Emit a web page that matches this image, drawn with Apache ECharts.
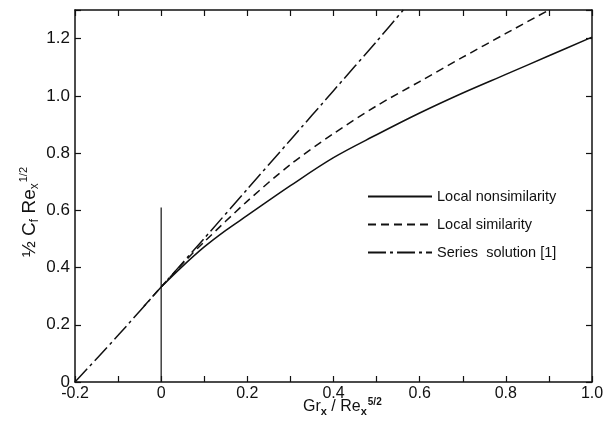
<!DOCTYPE html>
<html>
<head>
<meta charset="utf-8">
<script src="https://cdn.jsdelivr.net/npm/echarts@6/dist/echarts.min.js"></script>
<style>
  html, body { margin: 0; padding: 0; background: #fff; }
  #chart { width: 607px; height: 433px; }
</style>
</head>
<body>
<div id="chart"></div>
<script>
// Skin-friction parameter vs. buoyancy parameter Gr_x / Re_x^(5/2)
const nonsimX = [0, 0.05, 0.1, 0.15, 0.2, 0.3, 0.4, 0.5, 0.6, 0.7, 0.8, 0.9, 1.0];
const nonsimY = [0.332, 0.405, 0.472, 0.53, 0.582, 0.686, 0.784, 0.864, 0.94, 1.01, 1.075, 1.14, 1.205];

const simX = [-0.04, 0, 0.05, 0.1, 0.2, 0.3, 0.4, 0.5, 0.6, 0.7, 0.8, 0.9];
const simY = [0.265, 0.332, 0.414, 0.49, 0.632, 0.76, 0.868, 0.965, 1.05, 1.135, 1.218, 1.30];

const seriesX = [-0.2, -0.1, 0, 0.1, 0.2, 0.3, 0.4, 0.5, 0.562];
const seriesY = [0, 0.163, 0.332, 0.502, 0.674, 0.846, 1.018, 1.19, 1.30];

// vertical marker at Gr_x/Re_x^(5/2) = 0
const markerX = [0, 0];
const markerY = [0, 0.61];

const names = ['Local nonsimilarity', 'Local similarity', 'Series  solution [1]'];

const zip = (xs, ys) => xs.map((x, i) => [x, ys[i]]);

const FONT = '"Liberation Sans", Arial, sans-serif';
const INK = '#111';

const xLabel = v => {
  const k = Math.round(v * 10);
  if (k % 2 !== 0) return '';
  if (k === 0) return '0';
  return (k / 10).toFixed(1);
};
const yLabel = v => {
  const k = Math.round(v * 10);
  if (k % 2 !== 0 || k > 12) return '';
  if (k === 0) return '0';
  return (k / 10).toFixed(1);
};

const chart = echarts.init(document.getElementById('chart'), null, { renderer: 'canvas' });

const axisLine = { show: true, onZero: false, lineStyle: { color: INK, width: 1.5 } };
const tick = { show: true, inside: true, length: 6, lineStyle: { color: INK, width: 1.2 } };

chart.setOption({
  animation: false,
  backgroundColor: '#fff',
  grid: { left: 75, right: 15, top: 10, bottom: 51, containLabel: false },
  xAxis: [
    {
      type: 'value', position: 'bottom', min: -0.2, max: 1.0, interval: 0.1,
      axisLine, axisTick: tick,
      axisLabel: { formatter: xLabel, color: INK, fontFamily: FONT, fontSize: 16, margin: 4 },
      splitLine: { show: false }
    },
    {
      type: 'value', position: 'top', min: -0.2, max: 1.0, interval: 0.1,
      axisLine, axisTick: tick,
      axisLabel: { show: false },
      splitLine: { show: false }
    }
  ],
  yAxis: [
    {
      type: 'value', position: 'left', min: 0, max: 1.3, interval: 0.2,
      axisLine, axisTick: tick,
      axisLabel: { formatter: yLabel, color: INK, fontFamily: FONT, fontSize: 17, margin: 5 },
      splitLine: { show: false }
    },
    {
      type: 'value', position: 'right', min: 0, max: 1.3, interval: 0.2,
      axisLine, axisTick: tick,
      axisLabel: { show: false },
      splitLine: { show: false }
    }
  ],
  legend: {
    orient: 'vertical',
    left: 362,
    top: 184,
    itemWidth: 64,
    itemHeight: 14,
    itemGap: 13,
    data: names,
    itemStyle: { opacity: 0 },
    textStyle: { color: INK, fontFamily: FONT, fontSize: 14.5 }
  },
  series: [
    {
      name: names[0], type: 'line', data: zip(nonsimX, nonsimY),
      smooth: 0.35, symbol: 'none',
      lineStyle: { color: INK, width: 1.5, type: 'solid' },
      itemStyle: { color: INK }
    },
    {
      name: names[1], type: 'line', data: zip(simX, simY),
      smooth: 0.3, symbol: 'none',
      lineStyle: { color: INK, width: 1.5, type: [8, 5] },
      itemStyle: { color: INK }
    },
    {
      name: names[2], type: 'line', data: zip(seriesX, seriesY),
      smooth: 0.2, symbol: 'none',
      lineStyle: { color: INK, width: 1.5, type: [18, 4, 3, 4] },
      itemStyle: { color: INK }
    },
    {
      name: 'marker', type: 'line', data: zip(markerX, markerY),
      symbol: 'none', silent: true,
      lineStyle: { color: INK, width: 1.2 }
    }
  ],
  graphic: [
    {
      type: 'text',
      left: 303, top: 397,
      style: {
        text: '{n|Gr}{sub|x}{n| / Re}{sub|x}{sup|5/2}',
        fill: INK,
        rich: {
          n: { fontFamily: FONT, fontSize: 16, fill: INK },
          sub: { fontFamily: FONT, fontSize: 11, fontWeight: 'bold', fill: INK, padding: [9, 0, 0, 0] },
          sup: { fontFamily: FONT, fontSize: 10, fontWeight: 'bold', fill: INK, padding: [0, 0, 10, 1] }
        }
      }
    },
    {
      type: 'text',
      x: 30, y: 212,
      rotation: Math.PI / 2,
      style: {
        text: '{n|½ C}{sub|f}{n| Re}{sub|x}{sup|1/2}',
        align: 'center',
        verticalAlign: 'middle',
        fill: INK,
        rich: {
          n: { fontFamily: FONT, fontSize: 19, fill: INK },
          sub: { fontFamily: FONT, fontSize: 12, fill: INK, padding: [10, 0, 0, 0] },
          sup: { fontFamily: FONT, fontSize: 11, fill: INK, padding: [0, 0, 12, 1] }
        }
      }
    }
  ]
});
</script>
</body>
</html>
